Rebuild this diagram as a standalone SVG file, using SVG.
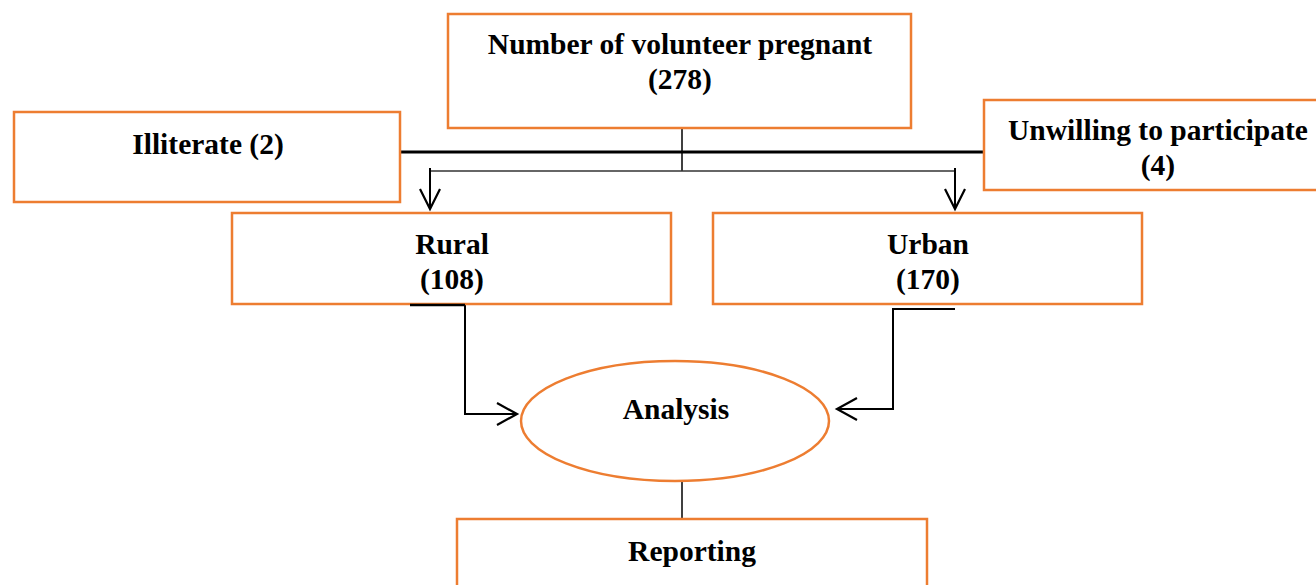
<svg xmlns="http://www.w3.org/2000/svg" width="1316" height="585" viewBox="0 0 1316 585">
<style>
.box{fill:#fff;stroke:#ED7D31;stroke-width:2.5}
.t{font-family:"Liberation Serif",serif;font-weight:bold;font-size:29.5px;fill:#000;text-anchor:middle}
.ln{fill:none;stroke:#000;stroke-width:2}
.arr{fill:none;stroke:#000;stroke-width:2.2}
</style>
<rect width="1316" height="585" fill="#fff"/>
<g id="connectors">
<line x1="400" y1="152" x2="984" y2="152" stroke="#000" stroke-width="3"/>
<line x1="682" y1="128" x2="682" y2="171" stroke="#000" stroke-width="1.5"/>
<line x1="430" y1="171" x2="955" y2="171" stroke="#333" stroke-width="1.5"/>
<line x1="430" y1="168" x2="430" y2="209" class="ln"/>
<polyline points="420,189 430,209 440,189" class="arr"/>
<line x1="955" y1="168" x2="955" y2="209" class="ln"/>
<polyline points="945,189 955,209 965,189" class="arr"/>
<polyline points="410,305 465,305 465,414 517,414" class="ln"/>
<polyline points="497,403 517,414 497,425" class="arr"/>
<polyline points="955,309 893,309 893,409 837,409" class="ln"/>
<polyline points="857,398 837,409 857,420" class="arr"/>
<line x1="682" y1="482" x2="682" y2="519" stroke="#000" stroke-width="1.5"/>
</g>
<g id="n-top">
<rect x="448" y="14" width="463" height="114" class="box"/>
<text x="680" y="54" class="t">Number of volunteer pregnant</text>
<text x="680" y="89" class="t">(278)</text>
</g>
<g id="n-illiterate">
<rect x="14" y="112" width="386" height="90" class="box"/>
<text x="208" y="154" class="t">Illiterate (2)</text>
</g>
<g id="n-unwilling">
<rect x="984" y="100" width="340" height="90" class="box"/>
<text x="1158" y="140" class="t">Unwilling to participate</text>
<text x="1158" y="175" class="t">(4)</text>
</g>
<g id="n-rural">
<rect x="232" y="213" width="439" height="91" class="box"/>
<text x="452" y="254" class="t">Rural</text>
<text x="452" y="289" class="t">(108)</text>
</g>
<g id="n-urban">
<rect x="713" y="213" width="429" height="91" class="box"/>
<text x="928" y="254" class="t">Urban</text>
<text x="928" y="289" class="t">(170)</text>
</g>
<g id="n-analysis">
<ellipse cx="675" cy="421" rx="154" ry="60" class="box"/>
<text x="676" y="419" class="t">Analysis</text>
</g>
<g id="n-reporting">
<rect x="457" y="519" width="470" height="80" class="box"/>
<text x="692" y="561" class="t">Reporting</text>
</g>
<line x1="410" y1="305" x2="465" y2="305" stroke="#000" stroke-width="2.5"/>
</svg>
